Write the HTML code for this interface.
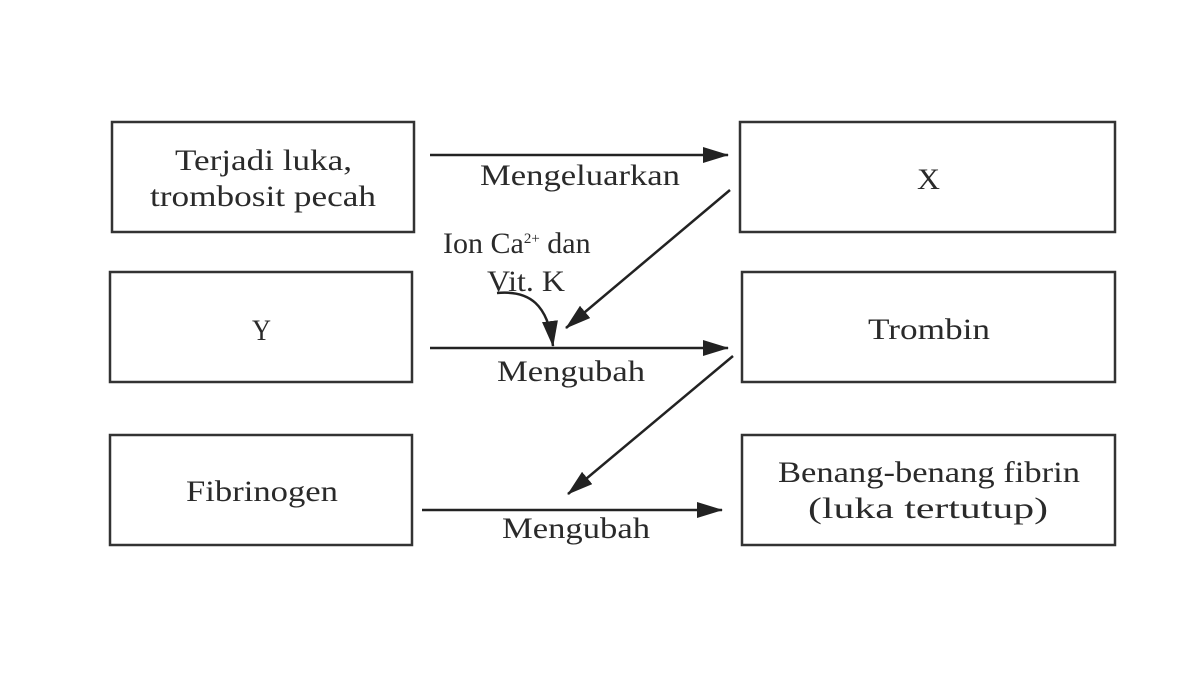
<!DOCTYPE html>
<html><head><meta charset="utf-8"><style>
html,body{margin:0;padding:0;background:#fff;}
svg{display:block;}
text{font-family:"Liberation Serif",serif;fill:#2a2a2a;font-size:30px;}
</style></head><body>
<svg width="1200" height="675" viewBox="0 0 1200 675">
<defs>
<marker id="b" markerWidth="26" markerHeight="16" refX="25" refY="8" orient="auto" markerUnits="userSpaceOnUse" viewBox="0 0 26 16">
<path d="M0,0 L26,8 L0,16 Z" fill="#222"/></marker>
</defs>
<g fill="none" stroke="#333" stroke-width="2.5">
<rect x="112" y="122" width="302" height="110"/>
<rect x="110" y="272" width="302" height="110"/>
<rect x="110" y="435" width="302" height="110"/>
<rect x="740" y="122" width="375" height="110"/>
<rect x="742" y="272" width="373" height="110"/>
<rect x="742" y="435" width="373" height="110"/>
</g>
<g stroke="#222" stroke-width="2.5" fill="none">
<line x1="430" y1="155" x2="728" y2="155" marker-end="url(#b)"/>
<line x1="430" y1="348" x2="728" y2="348" marker-end="url(#b)"/>
<line x1="422" y1="510" x2="722" y2="510" marker-end="url(#b)"/>
<line x1="730" y1="190" x2="566" y2="328" marker-end="url(#b)"/>
<line x1="733" y1="356" x2="568" y2="494" marker-end="url(#b)"/>
<path d="M497,293 C530,290 548,305 553,346" marker-end="url(#b)"/>
</g>
<text x="175" y="170" textLength="177" lengthAdjust="spacingAndGlyphs">Terjadi luka,</text>
<text x="150" y="206" textLength="226" lengthAdjust="spacingAndGlyphs">trombosit pecah</text>
<text x="252" y="340" textLength="19" lengthAdjust="spacingAndGlyphs">Y</text>
<text x="186" y="501" textLength="152" lengthAdjust="spacingAndGlyphs">Fibrinogen</text>
<text x="917" y="189" textLength="23" lengthAdjust="spacingAndGlyphs">X</text>
<text x="868" y="339" textLength="122" lengthAdjust="spacingAndGlyphs">Trombin</text>
<text x="778" y="482" textLength="302" lengthAdjust="spacingAndGlyphs">Benang-benang fibrin</text>
<text x="808" y="518" textLength="240" lengthAdjust="spacingAndGlyphs">(luka tertutup)</text>
<text x="480" y="185" textLength="200" lengthAdjust="spacingAndGlyphs">Mengeluarkan</text>
<text x="443" y="253">Ion Ca<tspan font-size="15" dy="-10">2+</tspan><tspan dy="10"> dan</tspan></text>
<text x="487" y="291" textLength="78" lengthAdjust="spacingAndGlyphs">Vit. K</text>
<text x="497" y="381" textLength="148" lengthAdjust="spacingAndGlyphs">Mengubah</text>
<text x="502" y="538" textLength="148" lengthAdjust="spacingAndGlyphs">Mengubah</text>
</svg>
</body></html>
